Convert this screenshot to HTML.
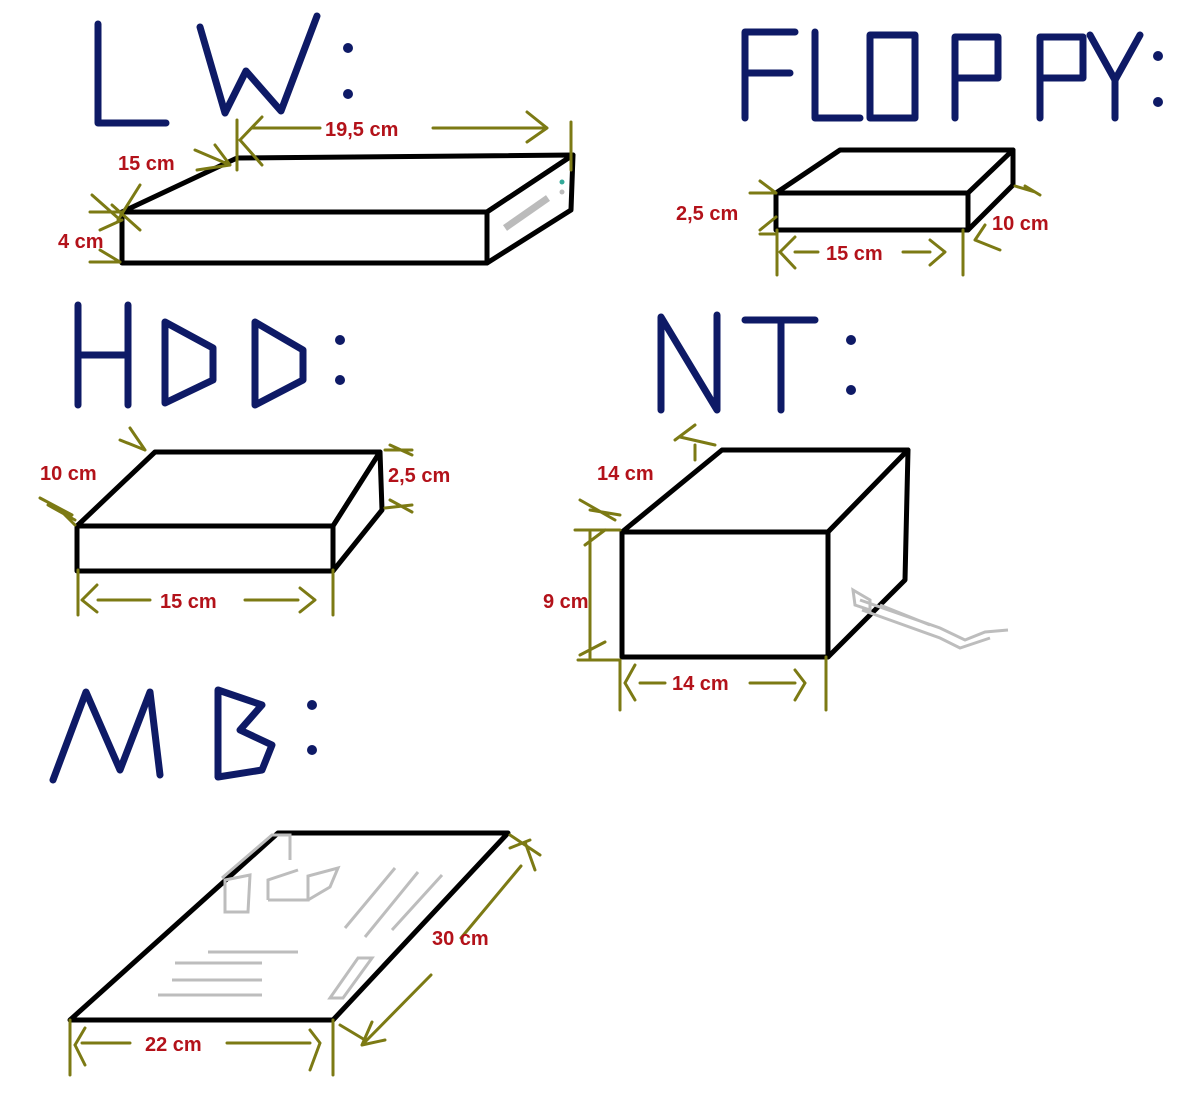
<!DOCTYPE html>
<html><head><meta charset="utf-8"><style>
html,body{margin:0;padding:0;background:#fff;}
svg{display:block}
.L{fill:none;stroke:#0e1a66;stroke-width:7;stroke-linecap:round;stroke-linejoin:round}
.B{fill:#fff;stroke:#000;stroke-width:5;stroke-linejoin:round}
.D{fill:none;stroke:#7c7a14;stroke-width:3;stroke-linecap:round}
.G{fill:none;stroke:#bdbdbd;stroke-width:3}
text{font-family:"Liberation Sans",sans-serif;font-size:20px;fill:#b3121a;font-weight:bold}
</style></head><body>
<svg width="1200" height="1095" viewBox="0 0 1200 1095">
<path class="L" d="M98 24 V123 H166 M200 27 L225 113 L246 71 L281 111 L317 16"/>
<circle cx="348" cy="48" r="5" fill="#0e1a66"/><circle cx="348" cy="94" r="5" fill="#0e1a66"/>
<path class="L" d="M745 118 V32 H795 M745 73 H790 M815 32 V118 H860 M870 35 H915 V118 H870 Z M955 118 V37 H998 V78 H955 M1040 118 V37 H1083 V78 H1040 M1090 35 L1115 80 L1140 35 M1115 80 V118"/>
<circle cx="1158" cy="56" r="5" fill="#0e1a66"/><circle cx="1158" cy="102" r="5" fill="#0e1a66"/>
<path class="L" d="M78 305 V405 M128 305 V405 M78 355 H128 M165 322 V403 L213 380 V348 Z M255 322 V405 L303 380 V350 Z"/>
<circle cx="340" cy="340" r="5" fill="#0e1a66"/><circle cx="340" cy="380" r="5" fill="#0e1a66"/>
<path class="L" d="M661 410 V317 L717 410 V315 M745 320 H815 M781 320 V410"/>
<circle cx="851" cy="340" r="5" fill="#0e1a66"/><circle cx="851" cy="390" r="5" fill="#0e1a66"/>
<path class="L" d="M53 780 L86 692 L120 770 L150 692 L160 775 M218 777 V690 L262 705 L240 730 L272 745 L262 770 Z"/>
<circle cx="312" cy="705" r="5" fill="#0e1a66"/><circle cx="312" cy="750" r="5" fill="#0e1a66"/>

<path class="B" d="M122 212 L237 158 L573 155 L487 212 Z"/>
<path class="B" d="M573 155 L571 210 L487 263 L487 212 Z"/>
<rect class="B" x="122" y="212" width="365" height="51"/>
<path d="M505 228 L548 198" stroke="#bbb" stroke-width="7"/>
<circle cx="562" cy="182" r="2.5" fill="#3a9"/><circle cx="562" cy="192" r="2.5" fill="#bbb"/>
<path class="D" d="M237 120 V170 M240 140 L262 165 M240 140 L262 117 M252 128 H320 M433 128 H545 M547 128 L527 112 M547 128 L527 142 M571 122 V170 M195 150 L230 165 M197 170 L230 165 M215 145 L230 165 M90 212 L122 212 M92 195 L118 218 M112 205 L140 230 M118 220 L140 185 M90 262 H120 M100 250 L120 262 M100 230 L122 220"/>
<text x="118" y="170">15 cm</text>
<text x="325" y="136">19,5 cm</text>
<text x="58" y="248">4 cm</text>

<path class="B" d="M776 193 L840 150 L1013 150 L968 193 Z"/>
<path class="B" d="M1013 150 L1013 185 L968 230 L968 193 Z"/>
<rect class="B" x="776" y="193" width="192" height="37"/>
<path class="D" d="M750 193 H776 M760 181 L776 193 M760 234 H776 M760 230 L776 217 M777 230 V275 M780 252 L795 237 M780 252 L795 268 M795 252 H818 M903 252 H930 M945 252 L930 240 M945 252 L930 265 M963 230 V275 M1015 186 L1035 192 M1025 186 L1040 195 M975 240 L1000 250 M985 225 L975 240"/>
<text x="676" y="220">2,5 cm</text>
<text x="826" y="260">15 cm</text>
<text x="992" y="230">10 cm</text>

<path class="B" d="M77 526 L155 452 L380 452 L333 526 Z"/>
<path class="B" d="M380 452 L382 510 L333 571 L333 526 Z"/>
<rect class="B" x="77" y="526" width="256" height="45"/>
<path class="D" d="M120 440 L145 450 M130 428 L145 450 M40 498 L72 515 M48 505 L75 520 M60 510 L75 525 M78 570 V615 M82 600 L97 585 M82 600 L97 612 M98 600 H150 M245 600 H298 M315 600 L300 588 M315 600 L300 612 M333 570 V615 M385 450 L412 450 M390 445 L412 455 M385 508 L412 505 M390 500 L412 512"/>
<text x="40" y="480">10 cm</text>
<text x="388" y="482">2,5 cm</text>
<text x="160" y="608">15 cm</text>

<path class="B" d="M622 532 L722 450 L908 450 L828 532 Z"/>
<path class="B" d="M908 450 L905 580 L828 657 L828 532 Z"/>
<rect class="B" x="622" y="532" width="206" height="125"/>
<path class="G" d="M853 590 L870 600 L870 610 L855 605 Z M860 600 L940 628 L965 640 L985 632 L1008 630 M862 610 L940 638 L960 648 L990 638 M880 605 L930 625"/>
<path class="D" d="M675 440 L695 425 M680 437 L715 445 M695 445 V460 M580 500 L615 520 M590 510 L620 515 M575 530 L620 530 M585 545 L605 530 M590 532 V660 M578 660 H620 M580 655 L605 642 M620 660 V710 M625 683 L635 665 M625 683 L635 700 M640 683 H665 M750 683 H795 M805 683 L795 670 M805 683 L795 700 M826 657 V710"/>
<text x="597" y="480">14 cm</text>
<text x="543" y="608">9 cm</text>
<text x="672" y="690">14 cm</text>

<path class="B" d="M70 1020 L278 833 L508 833 L333 1020 Z"/>
<path class="G" d="M222 878 L272 835 L290 835 L290 860 M225 880 L250 875 L248 912 L225 912 Z M268 900 L308 900 L308 876 L338 868 L330 887 L308 900 M268 900 L268 880 L298 870 M345 928 L395 868 M365 937 L418 872 M392 930 L442 875 M208 952 L298 952 M175 963 L262 963 M172 980 L262 980 M158 995 L262 995 M330 998 L358 958 L372 958 L343 998 Z"/>
<path class="D" d="M70 1020 V1075 M75 1045 L85 1028 M75 1045 L85 1065 M82 1043 H130 M227 1043 H310 M320 1043 L310 1030 M320 1043 L310 1070 M333 1020 V1075 M510 835 L540 855 M510 848 L530 840 M525 842 L535 870 M521 866 L461 938 M431 975 L362 1045 M362 1045 L372 1022 M362 1045 L385 1040 M340 1025 L365 1040"/>
<text x="432" y="945">30 cm</text>
<text x="145" y="1051">22 cm</text>
</svg>
</body></html>
